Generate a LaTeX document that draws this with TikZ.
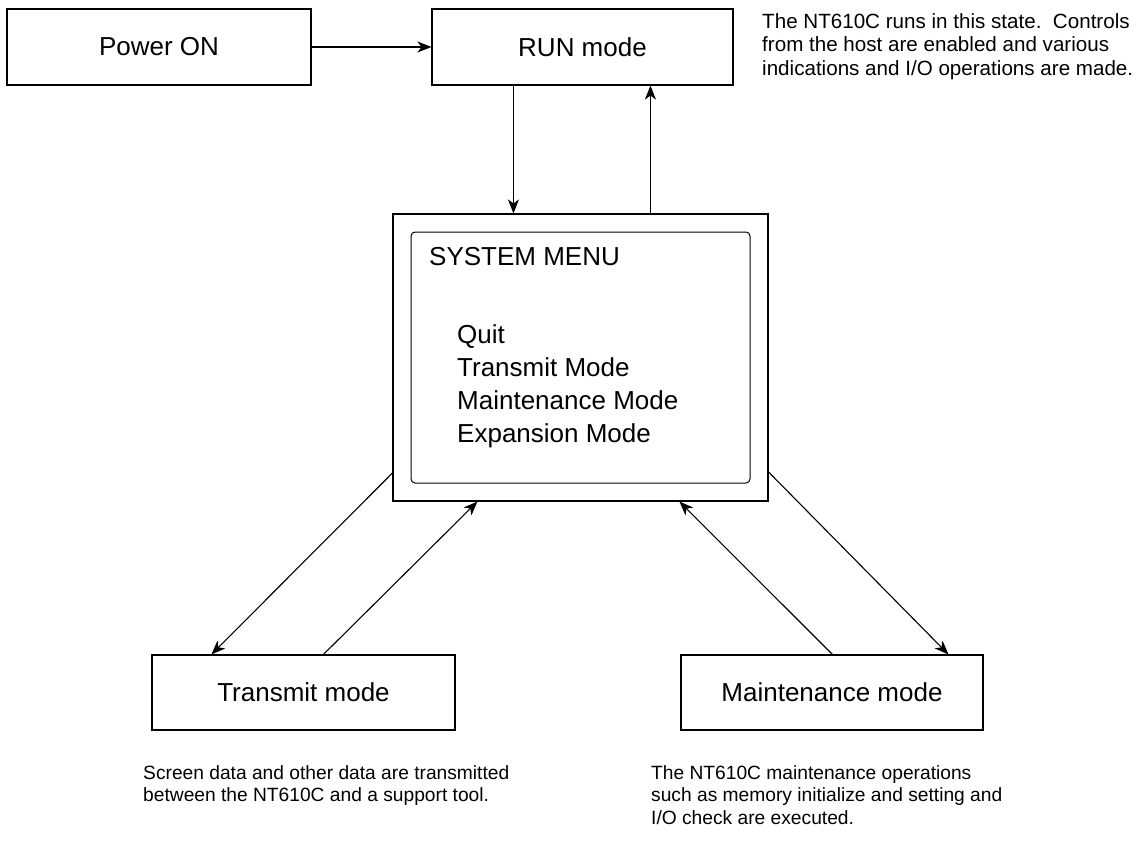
\documentclass[tikz,border=0pt]{standalone}
\usepackage{fontspec}
\setmainfont{Liberation Sans}
\usetikzlibrary{arrows.meta}
\begin{document}
\begin{tikzpicture}[x=1pt,y=-1pt,
  box/.style={draw,line width=1.1pt,minimum width=#1,minimum height=76pt,inner sep=0pt,
    font=\fontsize{26}{31}\selectfont},
  frame/.style={draw,line width=1.1pt,inner sep=0pt},
  arr/.style={line width=1.1pt,-{Stealth[length=14pt,width=11pt,inset=4pt]}},
  desc/.style={inner sep=0pt,anchor=north west,align=left,font=\fontsize{20.6}{23.5}\selectfont},
  bdesc/.style={inner sep=0pt,anchor=north west,align=left,font=\fontsize{19.2}{22.5}\selectfont},
  menutext/.style={inner sep=0pt,font=\fontsize{26}{33}\selectfont}
]
\useasboundingbox (0,0) rectangle (1147,840);
\fill[white] (0,0) rectangle (1147,840);

% boxes
\node[box=304pt] (power) at (159,47) {Power ON};
\node[box=301pt] (run) at (582.5,47) {RUN mode};
\node[box=303pt,minimum height=75pt] (trans) at (303.5,692.5) {Transmit mode};
\node[box=302pt,minimum height=75pt] (maint) at (832,692.5) {Maintenance mode};

% system menu
\node[frame,minimum width=375pt,minimum height=287pt] (sys) at (580.5,357.5) {};
\node[frame,rounded corners=4pt,line width=1pt,minimum width=339pt,minimum height=251pt] (inner) at (580.5,357.5) {};
\node[menutext,anchor=base west] (title) at (429,265) {SYSTEM MENU};
\node[menutext,anchor=north west,align=left] (items) at (457,324) {Quit\\Transmit Mode\\Maintenance Mode\\Expansion Mode};

% descriptions
\node[desc] (drun) at (762,13) {The NT610C runs in this state.\ \ Controls\\from the host are enabled and various\\indications and I/O operations are made.};
\node[bdesc] (dtrans) at (143,765) {Screen data and other data are transmitted\\between the NT610C and a support tool.};
\node[bdesc] (dmaint) at (651,765) {The NT610C maintenance operations\\such as memory initialize and setting and\\I/O check are executed.};

% connectors
\draw[arr] (power.east) -- (run.west);
\draw[arr] ([xshift=82pt]run.south west) -- ([xshift=121pt]sys.north west);
\draw[arr] ([xshift=258pt]sys.north west) -- ([xshift=219pt]run.south west);
\draw[arr] ([yshift=-115.5pt]sys.west) -- ([xshift=60pt]trans.north west);
\draw[arr] ([xshift=172pt]trans.north west) -- ([xshift=85pt]sys.south west);
\draw[arr] ([xshift=152pt]maint.north west) -- ([xshift=287pt]sys.south west);
\draw[arr] ([yshift=-114.5pt]sys.east) -- ([xshift=268pt]maint.north west);
\end{tikzpicture}
\end{document}
